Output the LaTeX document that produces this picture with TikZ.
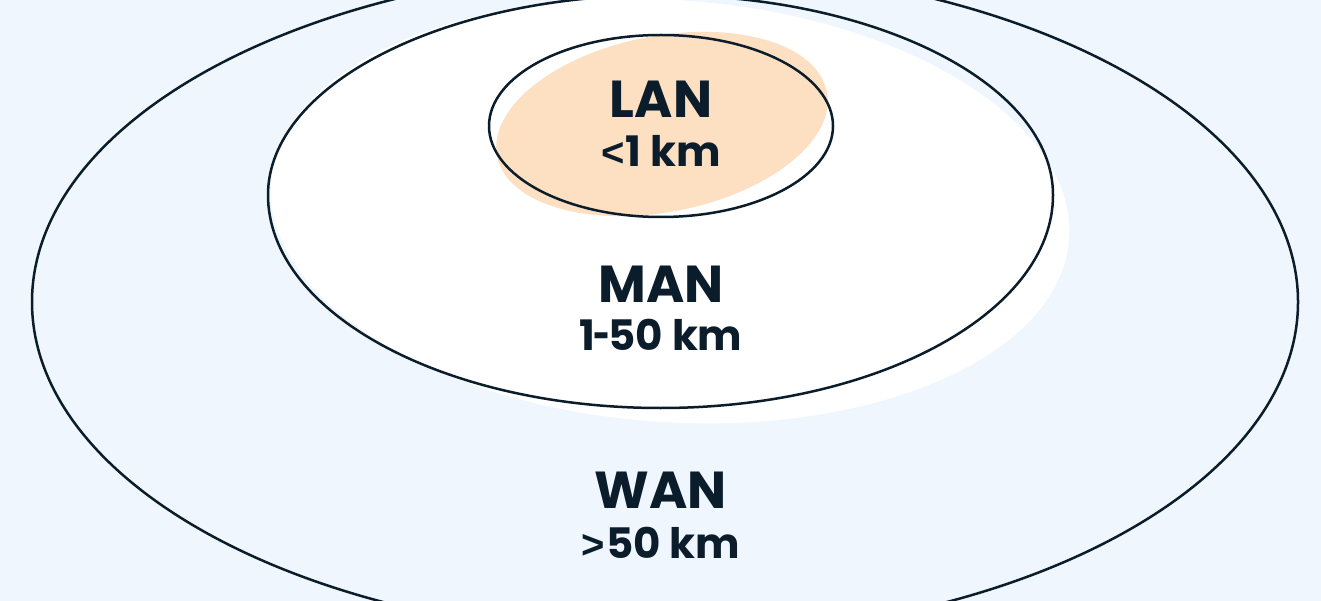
\documentclass[tikz,border=0pt]{standalone}
\usepackage{fontspec}
\setmainfont{Poppins}
\newfontfamily\signfont{Liberation Sans}
\definecolor{bgblue}{HTML}{EFF6FE}
\definecolor{lanfill}{HTML}{FDDFC1}
\definecolor{ink}{HTML}{0B1D2B}
\newcommand{\lessthan}{{\signfont\bfseries\fontsize{40}{40}\selectfont<}\kern1pt}
\newcommand{\morethan}{{\signfont\bfseries\fontsize{40}{40}\selectfont>}\kern1pt}
\newcommand{\spandash}{\kern-2pt\scalebox{0.7}[1]{-}\kern-2pt}
\tikzset{
  ring/.style={draw=ink, line width=2.5pt},
  netname/.style={anchor=base, text=ink, inner sep=0pt, font=\fontsize{52}{52}\selectfont\bfseries},
  netspan/.style={anchor=base, text=ink, inner sep=0pt, font=\fontsize{42}{42}\selectfont\bfseries}
}

\begin{document}
\begin{tikzpicture}[x=1pt, y=-1pt]
    \useasboundingbox (0,0) rectangle (1321,601);
    \clip (0,0) rectangle (1321,601);
    \fill[bgblue] (0,0) rectangle (1321,601);

    % Rings
    \draw[ring] (665,302) ellipse [x radius=633, y radius=335];
    \fill[white, rotate around={-4:(670,211)}] (670,211) ellipse [x radius=400, y radius=211];
    \draw[ring] (268,195) arc[start angle=180, end angle=360, x radius=392.5, y radius=200]
        arc[start angle=0, end angle=180, x radius=392.5, y radius=213] -- cycle;
    \fill[lanfill, rotate around={11:(662,124)}] (662,124) ellipse [x radius=168, y radius=88];
    \draw[ring] (661,126) ellipse [x radius=172, y radius=91];

    % Nodes
    \node (lan) [netname] at (661,118) {LAN};
    \node (lankm) [netspan] at (661,167) {\lessthan1 km};
    \node (man) [netname] at (661,302) {MAN};
    \node (mankm) [netspan] at (661,350) {1\spandash50 km};
    \node (wan) [netname] at (661,508) {WAN};
    \node (wankm) [netspan] at (661,558) {\morethan50 km};
\end{tikzpicture}
\end{document}
